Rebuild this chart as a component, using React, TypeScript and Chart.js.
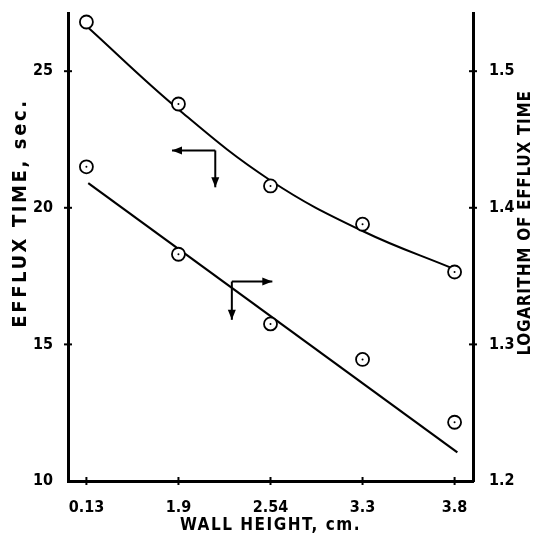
import React, { useEffect, useRef } from "react";
import { Chart, registerables } from "chart.js";
Chart.register(...registerables);

// ---- data ----
const xTickLabels = ["0.13", "1.9", "2.54", "3.3", "3.8"];
const xPositions = [0, 1, 2, 3, 4];
const effluxTime = [26.8, 23.8, 20.8, 19.4, 17.65];
const effluxFit = [26.65, 23.6, 21.0, 19.15, 17.75];
const logEffluxTime = [1.43, 1.366, 1.315, 1.289, 1.243];
const logFitX = [0.02, 4.03];
const logFitY = [1.418, 1.221];
const leftTicks = [10, 15, 20, 25];
const rightTicks = [1.2, 1.3, 1.4, 1.5];

const FONT = "'Liberation Sans Narrow', 'DejaVu Sans Condensed', 'Liberation Sans', sans-serif";

const zeroPad = (s: any) => {
  s.paddingTop = 0;
  s.paddingBottom = 0;
  s.paddingLeft = 0;
  s.paddingRight = 0;
};

const decorPlugin = {
  id: "decor",
  afterDraw(chart: any) {
    const { ctx, chartArea } = chart;
    const xs = chart.scales.x;
    const yl = chart.scales.yL;
    const yr = chart.scales.yR;
    ctx.save();
    ctx.strokeStyle = "#000";
    ctx.fillStyle = "#000";
    ctx.lineWidth = 2;
    // crossing tick marks
    xPositions.forEach((v) => {
      const px = xs.getPixelForValue(v);
      ctx.beginPath();
      ctx.moveTo(px, chartArea.bottom - 4);
      ctx.lineTo(px, chartArea.bottom + 4);
      ctx.stroke();
    });
    leftTicks.slice(1).forEach((v) => {
      const py = yl.getPixelForValue(v);
      ctx.beginPath();
      ctx.moveTo(chartArea.left - 4, py);
      ctx.lineTo(chartArea.left + 4, py);
      ctx.stroke();
    });
    rightTicks.slice(1).forEach((v) => {
      const py = yr.getPixelForValue(v);
      ctx.beginPath();
      ctx.moveTo(chartArea.right - 4, py);
      ctx.lineTo(chartArea.right + 4, py);
      ctx.stroke();
    });

    // arrows
    const arrow = (x1: number, y1: number, x2: number, y2: number) => {
      ctx.beginPath();
      ctx.moveTo(x1, y1);
      ctx.lineTo(x2, y2);
      ctx.stroke();
      const a = Math.atan2(y2 - y1, x2 - x1);
      const L = 10, W = 4;
      ctx.beginPath();
      ctx.moveTo(x2, y2);
      ctx.lineTo(x2 - L * Math.cos(a) + W * Math.sin(a), y2 - L * Math.sin(a) - W * Math.cos(a));
      ctx.lineTo(x2 - L * Math.cos(a) - W * Math.sin(a), y2 - L * Math.sin(a) + W * Math.cos(a));
      ctx.closePath();
      ctx.fill();
    };
    const ux = xs.getPixelForValue(1.4), uy = yl.getPixelForValue(22.1);
    arrow(ux, uy, xs.getPixelForValue(0.93), uy);
    arrow(ux, uy, ux, yl.getPixelForValue(20.75));
    const lx = xs.getPixelForValue(1.58), ly = yr.getPixelForValue(1.346);
    arrow(lx, ly, xs.getPixelForValue(2.02), ly);
    arrow(lx, ly, lx, yr.getPixelForValue(1.318));

    // titles
    ctx.textAlign = "center";
    ctx.textBaseline = "middle";
    ctx.font = "bold 17px " + FONT;
    (ctx as any).letterSpacing = "1.5px";
    ctx.fillText("WALL HEIGHT, cm.", (chartArea.left + chartArea.right) / 2, 526);

    ctx.save();
    ctx.font = "bold 20px " + FONT;
    (ctx as any).letterSpacing = "2.6px";
    ctx.translate(21, 213);
    ctx.rotate(-Math.PI / 2);
    ctx.fillText("EFFLUX TIME, sec.", 0, 0);
    ctx.restore();

    ctx.save();
    ctx.font = "bold 17px " + FONT;
    (ctx as any).letterSpacing = "0.7px";
    ctx.translate(526, 223);
    ctx.rotate(-Math.PI / 2);
    ctx.fillText("LOGARITHM OF EFFLUX TIME", 0, 0);
    ctx.restore();
    ctx.restore();
  },
};

export default function App() {
  const ref = useRef<HTMLCanvasElement>(null);
  useEffect(() => {
    if (!ref.current) return;
    const tickFont = { family: FONT, size: 16, weight: "bold" as const };
    const circleStyle = {
      showLine: false,
      pointStyle: "circle",
      pointRadius: 6.5,
      pointBorderWidth: 1.8,
      pointBorderColor: "#000",
      pointBackgroundColor: "#fff",
      order: 3,
      clip: false,
    };
    const chart = new Chart(ref.current, {
      type: "scatter",
      data: {
        datasets: [
          {
            label: "efflux fit",
            data: xPositions.map((x, i) => ({ x, y: effluxFit[i] })),
            yAxisID: "yL",
            showLine: true,
            tension: 0.4,
            borderColor: "#000",
            borderWidth: 2,
            pointRadius: 0,
            order: 5,
          },
          {
            label: "log fit",
            data: logFitX.map((x, i) => ({ x, y: logFitY[i] })),
            yAxisID: "yR",
            showLine: true,
            borderColor: "#000",
            borderWidth: 2.2,
            pointRadius: 0,
            order: 4,
          },
          {
            label: "Efflux time",
            data: xPositions.map((x, i) => ({ x, y: effluxTime[i] })),
            yAxisID: "yL",
            ...circleStyle,
          },
          {
            label: "Log efflux time",
            data: xPositions.map((x, i) => ({ x, y: logEffluxTime[i] })),
            yAxisID: "yR",
            ...circleStyle,
          },
          {
            label: "dots upper",
            data: xPositions.map((x, i) => ({ x, y: effluxTime[i] })),
            yAxisID: "yL",
            showLine: false,
            pointRadius: [0, 1, 1, 1, 1],
            pointBorderWidth: 0,
            pointBackgroundColor: "#000",
            order: 1,
          },
          {
            label: "dots lower",
            data: xPositions.map((x, i) => ({ x, y: logEffluxTime[i] })),
            yAxisID: "yR",
            showLine: false,
            pointRadius: 1,
            pointBorderWidth: 0,
            pointBackgroundColor: "#000",
            order: 1,
          },
        ],
      },
      options: {
        animation: false,
        responsive: true,
        maintainAspectRatio: false,
        layout: { padding: { top: 13, left: 0, right: 0, bottom: 0 } },
        plugins: { legend: { display: false }, tooltip: { enabled: false } },
        scales: {
          x: {
            type: "linear",
            min: -0.2,
            max: 4.2,
            afterBuildTicks: (s: any) => {
              s.ticks = xPositions.map((v) => ({ value: v }));
            },
            afterFit: (s: any) => {
              s.height = 54;
              zeroPad(s);
            },
            ticks: {
              font: tickFont,
              color: "#000",
              padding: 17,
              maxRotation: 0,
              callback: (v: any) => xTickLabels[Math.round(v)] ?? "",
            },
            grid: { display: false, drawTicks: false },
            border: { display: true, color: "#000", width: 3 },
          },
          yL: {
            type: "linear",
            position: "left",
            min: 10,
            max: 27.13,
            afterBuildTicks: (s: any) => {
              s.ticks = leftTicks.map((v) => ({ value: v }));
            },
            afterFit: (s: any) => {
              s.width = 68;
              zeroPad(s);
            },
            ticks: { font: tickFont, color: "#000", padding: 15, callback: (v: any) => String(v) },
            grid: { display: false, drawTicks: false },
            border: { display: true, color: "#000", width: 3 },
          },
          yR: {
            type: "linear",
            position: "right",
            min: 1.2,
            max: 1.5426,
            afterBuildTicks: (s: any) => {
              s.ticks = rightTicks.map((v) => ({ value: v }));
            },
            afterFit: (s: any) => {
              s.width = 61;
              zeroPad(s);
            },
            ticks: { font: tickFont, color: "#000", padding: 16, callback: (v: any) => Number(v).toFixed(1) },
            grid: { display: false, drawTicks: false },
            border: { display: true, color: "#000", width: 3 },
          },
        },
      },
      plugins: [decorPlugin],
    } as any);
    return () => chart.destroy();
  }, []);
  return (
    <div style={{ position: "absolute", left: 0, top: 0, width: 534, height: 535 }}>
      <canvas ref={ref} />
    </div>
  );
}
